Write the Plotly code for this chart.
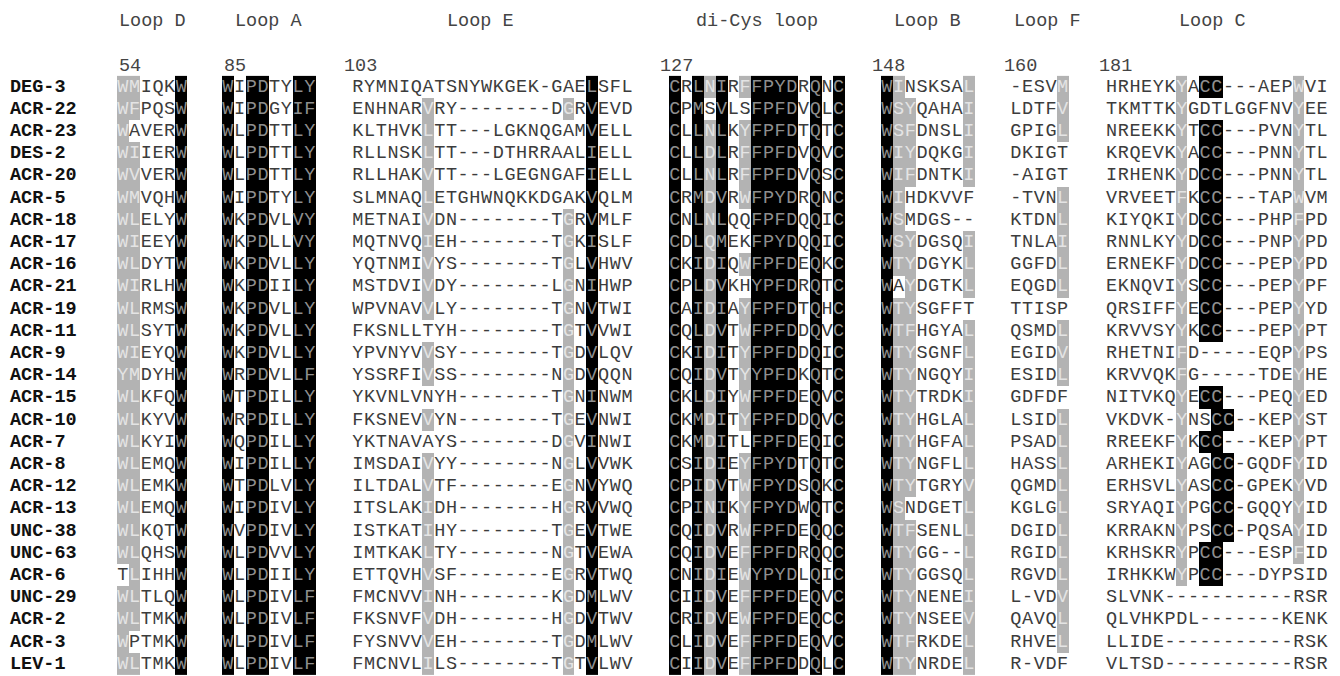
import plotly.graph_objects as go

# ---------------- data ----------------
names = ["DEG-3", "ACR-22", "ACR-23", "DES-2", "ACR-20", "ACR-5", "ACR-18", "ACR-17",
         "ACR-16", "ACR-21", "ACR-19", "ACR-11", "ACR-9", "ACR-14", "ACR-15", "ACR-10",
         "ACR-7", "ACR-8", "ACR-12", "ACR-13", "UNC-38", "UNC-63", "ACR-6", "UNC-29",
         "ACR-2", "ACR-3", "LEV-1"]

loop_titles = ["Loop D", "Loop A", "Loop E", "di-Cys loop", "Loop B", "Loop F", "Loop C"]
loop_numbers = ["54", "85", "103", "127", "148", "160", "181"]

loop_d = ["WMIQKW", "WFPQSW", "WAVERW", "WIIERW", "WVVERW", "WMVQHW", "WLELYW", "WIEEYW",
          "WLDYTW", "WIRLHW", "WLRMSW", "WLSYTW", "WIEYQW", "YMDYHW", "WLKFQW", "WLKYVW",
          "WLKYIW", "WLEMQW", "WLEMKW", "WLEMQW", "WLKQTW", "WLQHSW", "TLIHHW", "WLTLQW",
          "WLTMKW", "WPTMKW", "WLTMKW"]
loop_d_shade = ["gg...k", "gg...k", "g....k", "gg...k", "gg...k", "gg...k", "gg...k", "gg...k",
                "gg...k", "gg...k", "gg...k", "gg...k", "gg...k", "gg...k", "gg...k", "gg...k",
                "gg...k", "gg...k", "gg...k", "gg...k", "gg...k", "gg...k", ".g...k", "gg...k",
                "gg...k", "g....k", "gg...k"]

loop_a = ["WIPDTYLY", "WIPDGYIF", "WLPDTTLY", "WLPDTTLY", "WLPDTTLY", "WIPDTYLY", "WKPDVLVY",
          "WKPDLLVY", "WKPDVLLY", "WKPDIILY", "WKPDVLLY", "WKPDVLLY", "WKPDVLLY", "WRPDVLLF",
          "WTPDILLY", "WRPDILLY", "WQPDILLY", "WIPDILLY", "WTPDLVLY", "WIPDIVLY", "WVPDIVLY",
          "WLPDVVLY", "WLPDIILY", "WLPDIVLF", "WLPDIVLF", "WLPDIVLF", "WLPDIVLF"]
loop_a_shade = ["k.kk..kk"] * 27

loop_e = ["RYMNIQATSNYWKGEK-GAELSFL", "ENHNARVRY--------DGRVEVD", "KLTHVKLTT---LGKNQGAMVELL",
          "RLLNSKLTT---DTHRRAALIELL", "RLLHAKVTT---LGEGNGAFIELL", "SLMNAQLETGHWNQKKDGAKVQLM",
          "METNAIVDN--------TGRVMLF", "MQTNVQIEH--------TGKISLF", "YQTNMIVYS--------TGLVHWV",
          "MSTDVIVDY--------LGNIHWP", "WPVNAVVLY--------TGNVTWI", "FKSNLLTYH--------TGTVVWI",
          "YPVNYVVSY--------TGDVLQV", "YSSRFIVSS--------NGDVQQN", "YKVNLVNYH--------TGNINWM",
          "FKSNEVVYN--------TGEVNWI", "YKTNAVAYS--------DGVINWI", "IMSDAIVYY--------NGLVVWK",
          "ILTDALVTF--------EGNVYWQ", "ITSLAKIDH--------HGRVVWQ", "ISTKATIHY--------TGEVTWE",
          "IMTKAKLTY--------NGTVEWA", "ETTQVHVSF--------EGRVTWQ", "FMCNVVINH--------KGDMLWV",
          "FKSNVFVDH--------HGDVTWV", "FYSNVVVEH--------TGDMLWV", "FMCNVLILS--------TGTVLWV"]
loop_e_shade = ["....................k...", "......g...........g.k...", "......g.............k...",
                "......g.............k...", "......g.............k...", "......g.............k...",
                "......g...........g.k...", "......g...........g.k...", "......g...........g.k...",
                "......g...........g.k...", "......g...........g.k...", "..................g.k...",
                "......g...........g.k...", "......g...........g.k...", "..................g.k...",
                "......g...........g.k...", "..................g.k...", "......g...........g.k...",
                "......g...........g.k...", "......g...........g.k...", "......g...........g.k...",
                "......g...........g.k...", "......g...........g.k...", "......g...........g.k...",
                "......g...........g.k...", "......g...........g.k...", "......g...........g.k..."]

loop_dicys = ["CRLNIRFFPYDRQNC", "CPMSVLSFPFDVQLC", "CLLNLKYFPFDTQTC", "CLLDLRFFPFDVQVC",
              "CLLNLRFFPFDVQSC", "CRMDVRWFPYDRQNC", "CNLNLQQFPFDQQIC", "CDLQMEKFPYDQQIC",
              "CKIDIQWFPFDEQKC", "CPLDVKHYPFDRQTC", "CAIDIAYFPFDTQHC", "CQLDVTWFPFDDQVC",
              "CKIDITYFPFDDQIC", "CQIDVTYYPFDKQTC", "CKLDIYWFPFDEQVC", "CKMDITYFPFDDQVC",
              "CKMDITLFPFDEQIC", "CSIDIEYFPYDTQTC", "CPIDVTWFPYDSQKC", "CPINIKYFPYDWQTC",
              "CQIDVRWFPFDEQQC", "CQIDVEFFPFDRQQC", "CNIDIEWYPYDLQIC", "CIIDVEFFPFDEQVC",
              "CRIDVEWFPFDEQCC", "CLIDVEFFPFDEQVC", "CIIDVEFFPFDDQLC"]
loop_dicys_shade = ["k.kgk.gkkkk.k.k", "k.k.k..kkkk.k.k", "k.kgk.gkkkk.k.k", "k.kgk.gkkkk.k.k",
                    "k.kgk.gkkkk.k.k", "k.kgk.gkkkk.k.k", "k.kgk..kkkk.k.k", "k.kgk..kkkk.k.k",
                    "k.kgk.gkkkk.k.k", "k.kgk..kkkk.k.k", "k.kgk.gkkkk.k.k", "k.kgk.gkkkk.k.k",
                    "k.kgk.gkkkk.k.k", "k.kgk.gkkkk.k.k", "k.kgk.gkkkk.k.k", "k.kgk.gkkkk.k.k",
                    "k.kgk..kkkk.k.k", "k.kgk.gkkkk.k.k", "k.kgk.gkkkk.k.k", "k.kgk.gkkkk.k.k",
                    "k.kgk.gkkkk.k.k", "k.kgk.gkkkk.k.k", "k.kgk.gkkkk.k.k", "k.kgk.gkkkk.k.k",
                    "k.kgk.gkkkk.k.k", "k.kgk.gkkkk.k.k", "k.kgk.gkkkk.k.k"]

loop_b = ["WINSKSAL", "WSYQAHAI", "WSFDNSLI", "WIYDQKGI", "WIFDNTKI", "WIHDKVVF", "WSMDGS--",
          "WSYDGSQI", "WTYDGYKL", "WAYDGTKL", "WTYSGFFT", "WTFHGYAL", "WTYSGNFL", "WTYNGQYI",
          "WTYTRDKI", "WTYHGLAL", "WTYHGFAL", "WTYNGFLL", "WTYTGRYV", "WSNDGETL", "WTFSENLL",
          "WTYGG--L", "WTYGGSQL", "WTYNENEI", "WTYNSEEV", "WTFRKDEL", "WTYNRDEL"]
loop_b_shade = ["kg.....g", "kgg....g", "kgg....g", "kgg....g", "kgg....g", "kg......", "kg......",
                "kgg....g", "kgg....g", "k.g....g", "kgg.....", "kgg....g", "kgg....g", "kgg....g",
                "kgg....g", "kgg....g", "kgg....g", "kgg....g", "kgg....g", "kg.....g", "kgg....g",
                "kgg....g", "kgg....g", "kgg....g", "kgg....g", "kgg....g", "kgg....g"]

loop_f = ["-ESVM", "LDTFV", "GPIGL", "DKIGT", "-AIGT", "-TVNL", "KTDNL", "TNLAI", "GGFDL",
          "EQGDL", "TTISP", "QSMDL", "EGIDV", "ESIDL", "GDFDF", "LSIDL", "PSADL", "HASSL",
          "QGMDL", "KGLGL", "DGIDL", "RGIDL", "RGVDL", "L-VDV", "QAVQL", "RHVEL", "R-VDF"]
loop_f_shade = ["....g", "....g", "....g", ".....", ".....", "....g", "....g", "....g", "....g",
                "....g", ".....", "....g", "....g", "....g", ".....", "....g", "....g", "....g",
                "....g", "....g", "....g", "....g", "....g", "....g", "....g", "....g", "....."]

loop_c = ["HRHEYKYACC---AEPWVI", "TKMTTKYGDTLGGFNVYEE", "NREEKKYTCC---PVNYTL",
          "KRQEVKYACC---PNNYTL", "IRHENKYDCC---PNNYTL", "VRVEETFKCC---TAPWVM",
          "KIYQKIYDCC---PHPFPD", "RNNLKYYDCC---PNPYPD", "ERNEKFYDCC---PEPYPD",
          "EKNQVIYSCC---PEPYPF", "QRSIFFYECC---PEPYYD", "KRVVSYYKCC---PEPYPT",
          "RHETNIFD-----EQPYPS", "KRVVQKFG-----TDEYHE", "NITVKQYECC---PEQYED",
          "VKDVK-YNSCC--KEPYST", "RREEKFYKCC---KEPYPT", "ARHEKIYAGCC-GQDFYID",
          "ERHSVLYASCC-GPEKYVD", "SRYAQIYPGCC-GQQYYID", "KRRAKNYPSCC-PQSAYID",
          "KRHSKRYPCC---ESPFID", "IRHKKWYPCC---DYPSID", "SLVNK-----------RSR",
          "QLVHKPDL-------KENK", "LLIDE-----------RSK", "VLTSD-----------RSR"]
loop_c_shade = ["......g.kk......g..", "......g.........g..", "......g.kk......g..",
                "......g.kk......g..", "......g.kk......g..", "......g.kk......g..",
                "......g.kk......g..", "......g.kk......g..", "......g.kk......g..",
                "......g.kk......g..", "......g.kk......g..", "......g.kk......g..",
                "......g.........g..", "......g.........g..", "......g.kk......g..",
                "......g..kk.....g..", "......g.kk......g..", "......g..kk.....g..",
                "......g..kk.....g..", "......g..kk.....g..", "......g..kk.....g..",
                "......g.kk......g..", "......g.kk.........", "...................",
                "...................", "...................", "..................."]

# ---------------- layout constants (page pixels) ----------------
W, H = 1340, 676
OFF = 8              # default page margin around the plot div
CW = 11.7            # width of one alignment column
ROW0, DY = 87, 22.2  # first row centre and row pitch
LOOP_X = [117, 222, 352, 669, 881, 1010, 1105.7]
TITLE_X = [152, 269, 480, 757, 927, 1047, 1212]
NUM_X = [117, 222, 342, 658, 870, 1002, 1097]
TITLE_Y, NUM_Y = 21.5, 66
NAME_X = 10
FONT = "Courier New, Liberation Mono, monospace"
FS = 18.5
GRAY, BLACK = "#b3b3b3", "#000000"
TXT = {".": "#3c3c3c", "g": "#e4e4e4", "k": "#8e8e8e"}

loops = [(loop_d, loop_d_shade), (loop_a, loop_a_shade), (loop_e, loop_e_shade),
         (loop_dicys, loop_dicys_shade), (loop_b, loop_b_shade), (loop_f, loop_f_shade),
         (loop_c, loop_c_shade)]

rows_y = [ROW0 + i * DY for i in range(len(names))]
fig = go.Figure()

groups = {k: ([], [], []) for k in TXT}
code = {"g": 1, "k": 2}
for (seqs, shades), x0 in zip(loops, LOOP_X):
    ncol = max(len(s) for s in seqs)
    xs = [x0 + (j + 0.5) * CW for j in range(ncol)]
    z = [[code.get(sh[j]) if j < len(sh) else None for j in range(ncol)] for sh in shades]
    fig.add_trace(go.Heatmap(
        x=xs, y=rows_y, z=z, zmin=1, zmax=2, showscale=False, hoverinfo="skip",
        colorscale=[[0, GRAY], [0.5, GRAY], [0.5, BLACK], [1, BLACK]]))
    for i, (s, sh) in enumerate(zip(seqs, shades)):
        for j, ch in enumerate(s):
            g = groups[sh[j] if j < len(sh) else "."]
            g[0].append(xs[j]); g[1].append(rows_y[i]); g[2].append(ch)

for k, (gx, gy, gt) in groups.items():
    fig.add_trace(go.Scatter(
        x=gx, y=gy, text=gt, mode="text", textposition="middle center", hoverinfo="skip",
        textfont=dict(family=FONT, size=FS, color=TXT[k]), showlegend=False))

fig.add_trace(go.Scatter(
    x=[NAME_X] * len(names), y=rows_y, text=names, mode="text", textposition="middle right",
    hoverinfo="skip", showlegend=False,
    textfont=dict(family=FONT, size=FS, color="#111111", weight="bold")))

for t, tx in zip(loop_titles, TITLE_X):
    fig.add_annotation(x=tx, y=TITLE_Y, text=t, showarrow=False, xanchor="center",
                       yanchor="middle", font=dict(family=FONT, size=FS, color="#444444"))
for n, nx in zip(loop_numbers, NUM_X):
    fig.add_annotation(x=nx, y=NUM_Y, text=n, showarrow=False, xanchor="left",
                       yanchor="middle", font=dict(family=FONT, size=FS, color="#444444"))

fig.update_layout(
    width=W, height=H, margin=dict(l=0, r=0, t=0, b=0),
    paper_bgcolor="white", plot_bgcolor="white", showlegend=False,
    xaxis=dict(range=[OFF, W + OFF], visible=False, fixedrange=True),
    yaxis=dict(range=[H + OFF, OFF], visible=False, fixedrange=True),
)
fig.write_html("out.html")
